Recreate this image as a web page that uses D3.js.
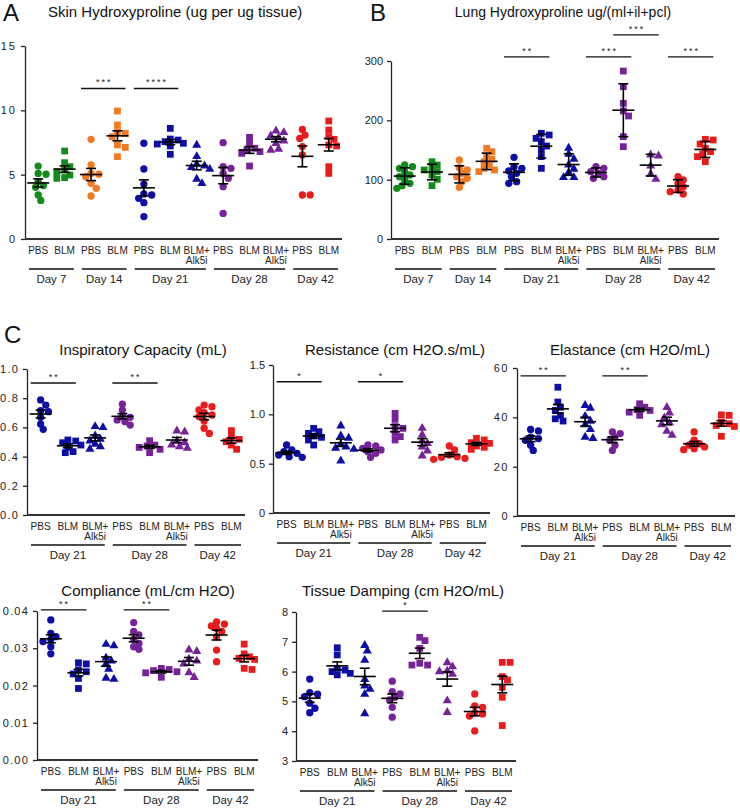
<!DOCTYPE html>
<html>
<head>
<meta charset="utf-8">
<script src="https://cdn.jsdelivr.net/npm/d3@7"></script>
<style>
  body { margin: 0; background: #fff; }
  svg { font-family: "Liberation Sans", Arial, sans-serif; }
</style>
</head>
<body>
<svg id="fig" width="740" height="810"></svg>
<script>
// ---- groups / labels ----
const abGroups = ["D7 PBS", "D7 BLM", "D14 PBS", "D14 BLM", "D21 PBS", "D21 BLM", "D21 BLM+Alk5i",
                  "D28 PBS", "D28 BLM", "D28 BLM+Alk5i", "D42 PBS", "D42 BLM"];
const abTicks = ["PBS", "BLM", "PBS", "BLM", "PBS", "BLM", "BLM+|Alk5i", "PBS", "BLM", "BLM+|Alk5i", "PBS", "BLM"];
const abColors = ["green", "green", "orange", "orange", "blue", "blue", "blue", "purple", "purple", "purple", "red", "red"];
const abShapes = ["circle", "square", "circle", "square", "circle", "square", "triangle", "circle", "square", "triangle", "circle", "square"];
const abDays = [["Day 7", 0, 1], ["Day 14", 2, 3], ["Day 21", 4, 6], ["Day 28", 7, 9], ["Day 42", 10, 11]];

const cGroups = ["D21 PBS", "D21 BLM", "D21 BLM+Alk5i", "D28 PBS", "D28 BLM", "D28 BLM+Alk5i", "D42 PBS", "D42 BLM"];
const cTicks = ["PBS", "BLM", "BLM+|Alk5i", "PBS", "BLM", "BLM+|Alk5i", "PBS", "BLM"];
const cColors = ["blue", "blue", "blue", "purple", "purple", "purple", "red", "red"];
const cShapes = ["circle", "square", "triangle", "circle", "square", "triangle", "circle", "square"];
const cDays = [["Day 21", 0, 2], ["Day 28", 3, 5], ["Day 42", 6, 7]];

const palette = {green: "#138a1c", orange: "#f47a22", blue: "#0e0ea6", purple: "#762299", red: "#ea1b1b"};

// ---- values ----
const skinHyp = [
  [5.67, 5.10, 5.03, 4.46, 4.15, 4.02, 3.42, 3.00],
  [6.84, 5.93, 5.62, 5.36, 5.23, 4.97, 4.77, 4.72],
  [7.75, 5.75, 5.10, 5.03, 4.84, 4.33, 3.94, 3.34],
  [9.95, 8.86, 8.34, 8.21, 7.95, 7.31, 7.12, 6.40],
  [7.44, 5.44, 4.27, 3.50, 3.42, 3.16, 2.82, 1.74],
  [8.60, 7.77, 7.69, 7.56, 7.44, 7.38, 7.23, 6.58],
  [7.36, 6.48, 5.88, 5.75, 5.62, 5.49, 4.72, 4.38],
  [7.49, 5.62, 5.49, 5.10, 4.72, 4.07, 1.99],
  [7.90, 7.44, 7.05, 6.92, 6.79, 6.66, 5.67],
  [8.47, 8.34, 8.08, 7.95, 7.69, 7.49, 7.05, 6.97],
  [8.52, 8.08, 7.82, 7.18, 6.53, 3.42, 3.42],
  [9.17, 8.47, 7.95, 7.75, 7.31, 7.23, 5.62, 5.10]
];
const lungHyp = [
  [124.7, 121.9, 119.1, 113.5, 107.9, 105.1, 99.4, 93.8, 89.9, 85.4],
  [130.3, 124.7, 120.2, 116.3, 113.5, 107.9, 100.6, 89.9],
  [133.1, 120.2, 116.3, 110.7, 105.1, 102.2, 96.6, 87.1],
  [152.8, 147.2, 139.9, 134.3, 130.3, 124.7, 119.1, 116.3, 113.5],
  [137.6, 121.9, 119.1, 114.6, 110.7, 105.1, 96.6, 93.8],
  [178.1, 175.3, 169.7, 164.0, 156.7, 150.0, 138.8, 119.1],
  [154.5, 144.4, 136.0, 126.4, 119.1, 113.5, 105.1, 105.1],
  [121.9, 119.1, 113.5, 110.7, 105.1, 102.2],
  [283.1, 256.7, 228.7, 215.7, 207.3, 172.5, 155.6],
  [143.3, 141.6, 124.7, 110.7, 102.2],
  [105.1, 99.4, 93.8, 88.2, 82.6, 79.8, 75.8],
  [168.0, 166.9, 160.1, 152.8, 147.2, 143.3, 138.8, 130.3]
];
const inspCap = [
  [0.788, 0.753, 0.715, 0.708, 0.669, 0.623, 0.587],
  [0.514, 0.507, 0.495, 0.479, 0.463, 0.434, 0.427],
  [0.612, 0.605, 0.548, 0.525, 0.514, 0.491, 0.473, 0.457],
  [0.760, 0.719, 0.678, 0.669, 0.651, 0.639, 0.616],
  [0.509, 0.479, 0.473, 0.463, 0.450, 0.427],
  [0.582, 0.575, 0.514, 0.502, 0.486, 0.473, 0.463],
  [0.753, 0.742, 0.719, 0.701, 0.685, 0.674, 0.644, 0.594, 0.559],
  [0.578, 0.532, 0.518, 0.502, 0.479, 0.450]
];
const resistance = [
  [0.689, 0.639, 0.622, 0.605, 0.588, 0.571, 0.564],
  [0.858, 0.824, 0.807, 0.780, 0.767, 0.740, 0.689],
  [0.892, 0.791, 0.767, 0.706, 0.679, 0.666, 0.655, 0.537],
  [0.689, 0.679, 0.655, 0.639, 0.622, 0.605, 0.564],
  [1.010, 0.949, 0.875, 0.858, 0.807, 0.774, 0.740],
  [0.868, 0.801, 0.740, 0.713, 0.679, 0.639, 0.588],
  [0.679, 0.639, 0.588, 0.571, 0.564, 0.554, 0.544],
  [0.757, 0.740, 0.713, 0.706, 0.679, 0.666, 0.645]
];
const elastance = [
  [35.1, 34.5, 32.0, 31.4, 30.7, 28.7, 26.6],
  [52.2, 46.2, 44.1, 42.8, 40.8, 39.4, 38.5],
  [45.2, 44.1, 40.8, 38.8, 37.4, 35.4, 32.3, 31.8],
  [34.1, 33.4, 32.0, 30.7, 28.7, 26.6],
  [45.5, 44.1, 43.1, 42.8, 42.1, 40.8],
  [44.4, 42.1, 40.1, 38.1, 37.4, 34.7, 33.1],
  [34.1, 30.7, 29.3, 28.7, 28.0, 27.3, 26.9],
  [41.0, 40.8, 38.1, 37.4, 36.7, 36.3, 32.3]
];
const compliance = [
  [0.0376, 0.0340, 0.0331, 0.0324, 0.0318, 0.0304, 0.0285],
  [0.0261, 0.0258, 0.0242, 0.0237, 0.0231, 0.0219, 0.0192],
  [0.0313, 0.0309, 0.0276, 0.0268, 0.0260, 0.0246, 0.0222, 0.0219],
  [0.0369, 0.0345, 0.0336, 0.0324, 0.0313, 0.0304, 0.0297],
  [0.0246, 0.0243, 0.0240, 0.0237, 0.0234, 0.0222],
  [0.0298, 0.0294, 0.0273, 0.0268, 0.0260, 0.0237, 0.0224],
  [0.0371, 0.0365, 0.0360, 0.0353, 0.0345, 0.0331, 0.0295, 0.0264],
  [0.0311, 0.0285, 0.0277, 0.0273, 0.0270, 0.0246, 0.0243]
];
const damping = [
  [5.75, 5.29, 5.24, 5.16, 4.94, 4.77, 4.62],
  [6.80, 6.56, 6.11, 6.05, 6.00, 5.94, 5.89],
  [6.91, 6.72, 6.41, 5.77, 5.55, 5.44, 5.27, 4.62],
  [5.68, 5.33, 5.25, 5.14, 5.05, 4.80, 4.47],
  [7.15, 7.04, 6.78, 6.28, 6.22, 6.22],
  [6.33, 6.19, 6.05, 6.03, 5.94, 5.05, 4.66],
  [5.25, 4.85, 4.80, 4.62, 4.58, 4.51, 4.01],
  [6.31, 6.31, 5.83, 5.72, 5.47, 5.14, 4.19]
];

// significance brackets: [from group, to group, stars, level]
const skinSig = [[2, 3, "***", 11.7], [4, 5, "****", 11.7]];
const lungSig = [[4, 5, "**", 307], [7, 8, "***", 307], [8, 9, "***", 344], [10, 11, "***", 307]];
const icSig = [[0, 1, "**", 0.904], [3, 4, "**", 0.904]];
const resSig = [[0, 1, "*", 1.33], [3, 4, "*", 1.33]];
const elSig = [[0, 1, "**", 56.8], [3, 4, "**", 56.8]];
const compSig = [[0, 1, "**", 0.0403], [3, 4, "**", 0.0403]];
const dampSig = [[3, 4, "*", 8.03]];

const svg = d3.select("#fig");

const symbols = {circle: d3.symbolCircle, square: d3.symbolSquare, triangle: d3.symbolTriangle};
const symSize = {circle: 42, square: 46, triangle: 36};

// simple deterministic beeswarm, markers may overlap a little like the original
function swarm(vals, y, r) {
    const pts = vals.map(v => ({v: v, py: y(v)})).sort((a, b) => a.py - b.py);
    const placed = [];
    for (const p of pts) {
        let off = 0;
        for (let k = 0; k < 30; k++) {
            const cand = k === 0 ? 0 : (k % 2 ? 1 : -1) * Math.ceil(k / 2) * r * 0.9;
            if (placed.every(q => Math.hypot(q.dx - cand, q.py - p.py) >= 2 * r)) { off = cand; break; }
        }
        p.dx = off;
        placed.push(p);
    }
    return placed;
}

function panel(o) {
    const g = svg.append("g");
    const x = d3.scaleBand().domain(o.groups).range(o.xr);
    const y = d3.scaleLinear().domain(o.domain).range(o.yr);
    const bw = x.bandwidth();
    const cx = i => x(o.groups[i]) + bw / 2;

    // y axis
    const ya = g.append("g")
        .attr("transform", `translate(${o.xr[0]},0)`)
        .call(d3.axisLeft(y).tickValues(o.ticks).tickFormat(o.fmt).tickSize(4).tickSizeOuter(0).tickPadding(4));
    ya.select(".domain").attr("stroke", "#222").attr("stroke-width", 1.3);
    ya.selectAll(".tick line").attr("stroke", "#222").attr("stroke-width", 1.3);
    ya.selectAll(".tick text").style("font-size", "11px").style("letter-spacing", o.spacing || "1.2px").attr("fill", "#222");

    // x axis line
    g.append("line")
        .attr("x1", o.xr[0]).attr("x2", o.xr[1])
        .attr("y1", o.yr[0]).attr("y2", o.yr[0])
        .attr("stroke", "#333").attr("stroke-width", 2.2);

    // x tick labels
    o.ticksX.forEach((t, i) => {
        const txt = g.append("text")
            .attr("x", cx(i)).attr("y", o.yr[0] + 15)
            .attr("text-anchor", "middle")
            .style("font-size", "10px").attr("fill", "#222");
        t.split("|").forEach((part, j) => {
            txt.append("tspan").attr("x", cx(i)).attr("dy", j === 0 ? 0 : 9.5).text(part);
        });
    });

    // day brackets
    o.days.forEach(d => {
        const x1 = x(o.groups[d[1]]) + 4;
        const x2 = x(o.groups[d[2]]) + bw - 4;
        g.append("line").attr("x1", x1).attr("x2", x2)
            .attr("y1", o.yr[0] + 30).attr("y2", o.yr[0] + 30)
            .attr("stroke", "#111").attr("stroke-width", 1.4);
        g.append("text").attr("x", (x1 + x2) / 2).attr("y", o.yr[0] + 44)
            .attr("text-anchor", "middle").style("font-size", "11.5px").attr("fill", "#222")
            .text(d[0]);
    });

    // points
    o.data.forEach((vals, i) => {
        const col = palette[o.colors[i]];
        const shape = o.shapes[i];
        const sym = d3.symbol().type(symbols[shape]).size(symSize[shape]);
        const pts = swarm(vals, y, 2.9);
        g.append("g").selectAll("path").data(pts).join("path")
            .attr("d", sym)
            .attr("transform", p => `translate(${cx(i) + p.dx},${p.py + (shape === "triangle" ? 0.8 : 0)})`)
            .attr("fill", col);

        // mean and error bar
        const m = d3.mean(vals);
        const sd = d3.deviation(vals);
        const err = o.sd ? sd : sd / Math.sqrt(vals.length);
        const eb = g.append("g").attr("stroke", "#000").attr("stroke-width", 1.6);
        eb.append("line").attr("x1", cx(i)).attr("x2", cx(i)).attr("y1", y(m - err)).attr("y2", y(m + err));
        eb.append("line").attr("x1", cx(i) - 5).attr("x2", cx(i) + 5).attr("y1", y(m - err)).attr("y2", y(m - err));
        eb.append("line").attr("x1", cx(i) - 5).attr("x2", cx(i) + 5).attr("y1", y(m + err)).attr("y2", y(m + err));
        eb.append("line").attr("x1", cx(i) - 11).attr("x2", cx(i) + 11).attr("y1", y(m)).attr("y2", y(m));
    });

    // significance
    o.sig.forEach(s => {
        const x1 = cx(s[0]) - 10, x2 = cx(s[1]) + 8;
        g.append("line").attr("x1", x1).attr("x2", x2)
            .attr("y1", y(s[3])).attr("y2", y(s[3]))
            .attr("stroke", "#111").attr("stroke-width", 1.4);
        g.append("text").attr("x", (x1 + x2) / 2 + 1).attr("y", y(s[3]) - 3)
            .attr("text-anchor", "middle").style("font-size", "9px").style("letter-spacing", "2px")
            .attr("fill", "#222").text(s[2]);
    });

    // title
    g.append("text").attr("x", o.title[1]).attr("y", o.title[2])
        .attr("text-anchor", o.title[3] || "middle")
        .style("font-size", o.title[4] || "15px").attr("fill", "#111")
        .text(o.title[0]);
}

// panel letters
[["A", 3, 21], ["B", 370, 21], ["C", 4, 343]].forEach(l => {
    svg.append("text").attr("x", l[1]).attr("y", l[2])
        .style("font-size", "24px").attr("fill", "#111").text(l[0]);
});

panel({groups: abGroups, ticksX: abTicks, colors: abColors, shapes: abShapes, days: abDays,
       data: skinHyp, sig: skinSig, xr: [25, 342], yr: [239, 46], domain: [0, 15],
       ticks: [0, 5, 10, 15], fmt: d3.format("d"), spacing: "2px",
       title: ["Skin Hydroxyproline (ug per ug tissue)", 48, 17, "start", "15px"]});

panel({groups: abGroups, ticksX: abTicks, colors: abColors, shapes: abShapes, days: abDays,
       data: lungHyp, sig: lungSig, xr: [391, 719], yr: [239, 61], domain: [0, 300], sd: true,
       ticks: [0, 100, 200, 300], fmt: d3.format("d"), spacing: "0px",
       title: ["Lung Hydroxyproline ug/(ml+il+pcl)", 563, 17, "middle", "14px"]});

panel({groups: cGroups, ticksX: cTicks, colors: cColors, shapes: cShapes, days: cDays,
       data: inspCap, sig: icSig, xr: [27, 245], yr: [515, 369], domain: [0, 1],
       ticks: [0, 0.2, 0.4, 0.6, 0.8, 1.0], fmt: d3.format(".1f"),
       title: ["Inspiratory Capacity (mL)", 143, 355]});

panel({groups: cGroups, ticksX: cTicks, colors: cColors, shapes: cShapes, days: cDays,
       data: resistance, sig: resSig, xr: [273, 490], yr: [513, 365], domain: [0, 1.5],
       ticks: [0, 0.5, 1.0, 1.5], fmt: d => d === 0 ? "0" : d3.format(".1f")(d), spacing: "0px",
       title: ["Resistance (cm H2O.s/mL)", 395, 355]});

panel({groups: cGroups, ticksX: cTicks, colors: cColors, shapes: cShapes, days: cDays,
       data: elastance, sig: elSig, xr: [517, 735], yr: [516, 368], domain: [0, 60],
       ticks: [0, 20, 40, 60], fmt: d3.format("d"), spacing: "1.5px",
       title: ["Elastance (cm H2O/mL)", 630, 355]});

panel({groups: cGroups, ticksX: cTicks, colors: cColors, shapes: cShapes, days: cDays,
       data: compliance, sig: compSig, xr: [37, 258], yr: [760, 611], domain: [0, 0.04],
       ticks: [0, 0.01, 0.02, 0.03, 0.04], fmt: d3.format(".2f"), spacing: "1.2px",
       title: ["Compliance (mL/cm H2O)", 148, 596]});

panel({groups: cGroups, ticksX: cTicks, colors: cColors, shapes: cShapes, days: cDays,
       data: damping, sig: dampSig, xr: [296, 516], yr: [761, 612], domain: [3, 8],
       ticks: [3, 4, 5, 6, 7, 8], fmt: d3.format("d"), spacing: "0px",
       title: ["Tissue Damping (cm H2O/mL)", 403, 596]});
</script>
</body>
</html>
